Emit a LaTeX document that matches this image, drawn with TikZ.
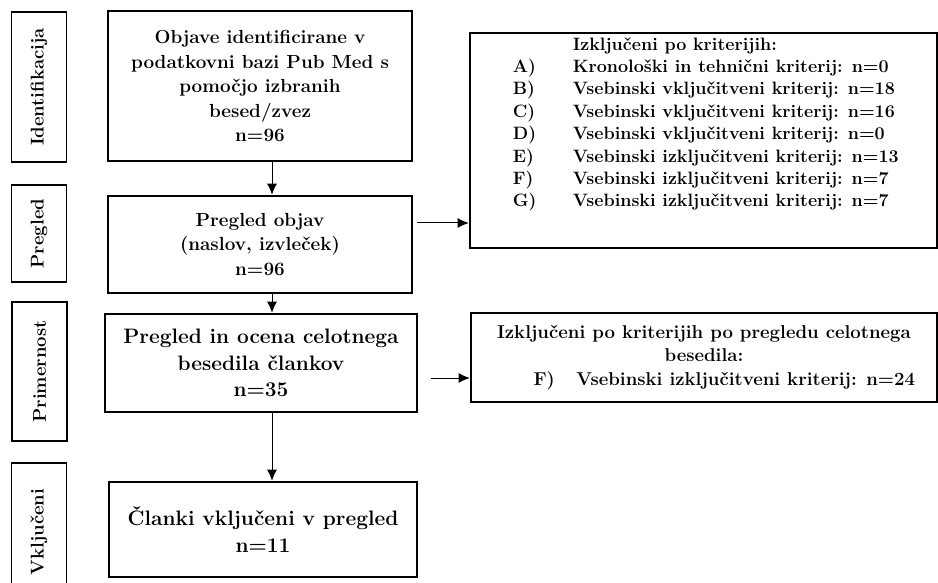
\documentclass[tikz,border=0pt]{standalone}
\usetikzlibrary{positioning,arrows.meta}
\tikzstyle{flowChart} = [x=1pt, y=-1pt]
\tikzstyle{mainBox} = [draw, line width=2.6pt, align=center, inner sep=2pt, font=\fontsize{18.9}{24.5}\selectfont\bfseries]
\tikzstyle{bigBox} = [mainBox, font=\fontsize{20.9}{26.5}\selectfont\bfseries]
\tikzstyle{sideBox} = [draw, line width=1.2pt, rotate=90, minimum height=55pt, font=\fontsize{18.5}{22}\selectfont\bfseries]
\tikzstyle{excludeBox} = [draw, line width=2.6pt, align=center, font=\fontsize{18.6}{23.5}\selectfont\bfseries]
\tikzstyle{listText} = [inner sep=0pt, align=left, font=\fontsize{17.9}{22.4}\selectfont\bfseries]
\tikzstyle{flowArrow} = [line width=1pt, -{Latex[length=11pt, width=10pt]}]
\newcommand{\sideLabel}[4]{\node [sideBox, minimum width=#3] (#1) at #2 {#4};}
\newcommand{\criterionItem}[2]{\makebox[60pt][l]{#1}#2}

\begin{document}
\begin{tikzpicture}[flowChart]
  \useasboundingbox (0,0) rectangle (938,583);
  \clip (0,0) rectangle (938,583);

  % phases on the left
  \sideLabel{sideIdent}{(39,87)}{150pt}{Identifikacija}
  \sideLabel{sideScreen}{(39,233.5)}{97pt}{Pregled}
  \sideLabel{sideElig}{(39.5,371.5)}{139pt}{Primernost}
  \sideLabel{sideIncl}{(39,532)}{138pt}{Vključeni}

  % main column
  \node [mainBox, minimum width=304pt, minimum height=150pt] (searchBox) at (260,86)
    {Objave identificirane v\\ podatkovni bazi Pub Med s\\ pomočjo izbranih\\ besed/zvez\\ n=96};
  \node [mainBox, minimum width=304pt, minimum height=97pt] (screenBox) at (260,244.5)
    {Pregled objav\\ (naslov, izvleček)\\ n=96};
  \node [bigBox, minimum width=312pt, minimum height=98pt] (fullTextBox) at (261,363)
    {Pregled in ocena celotnega\\ besedila člankov\\ n=35};
  \node [bigBox, minimum width=308pt, minimum height=95pt] (includedBox) at (263,529.5)
    {Članki vključeni v pregled\\ n=11};

  % excluded records
  \node [excludeBox, minimum width=467pt, minimum height=215pt] (excludedA) at (703.5,140.5) {};
  \node [listText, anchor=north west] (excludedAText) at ([xshift=44pt, yshift=-5.5pt]excludedA.north west)
    {\hspace*{60pt}Izključeni po kriterijih:\\
     \criterionItem{A)}{Kronološki in tehnični kriterij: n=0}\\
     \criterionItem{B)}{Vsebinski vključitveni kriterij: n=18}\\
     \criterionItem{C)}{Vsebinski vključitveni kriterij: n=16}\\
     \criterionItem{D)}{Vsebinski vključitveni kriterij: n=0}\\
     \criterionItem{E)}{Vsebinski izključitveni kriterij: n=13}\\
     \criterionItem{F)}{Vsebinski izključitveni kriterij: n=7}\\
     \criterionItem{G)}{Vsebinski izključitveni kriterij: n=7}};
  \node [excludeBox, minimum width=466pt, minimum height=89pt] (excludedB) at (704,357.5)
    {Izključeni po kriterijih po pregledu celotnega\\ besedila:\\
     \makebox[413pt][l]{\hspace*{36pt}\makebox[43pt][l]{F)}Vsebinski izključitveni kriterij: n=24}};

  % connectors
  \coordinate (spine) at (272,0);
  \draw [flowArrow] (searchBox.south -| spine) -- (screenBox.north -| spine);
  \draw [flowArrow] ([xshift=4pt, yshift=21.5pt]screenBox.east) -- ([yshift=21.5pt]screenBox.east -| excludedA.west);
  \draw [flowArrow] (screenBox.south -| spine) -- (fullTextBox.north -| spine);
  \draw [flowArrow] ([xshift=13pt, yshift=-15pt]fullTextBox.east) -- ([yshift=-15pt]fullTextBox.east -| excludedB.west);
  \draw [flowArrow] (fullTextBox.south -| spine) -- (includedBox.north -| spine);
\end{tikzpicture}
\end{document}
